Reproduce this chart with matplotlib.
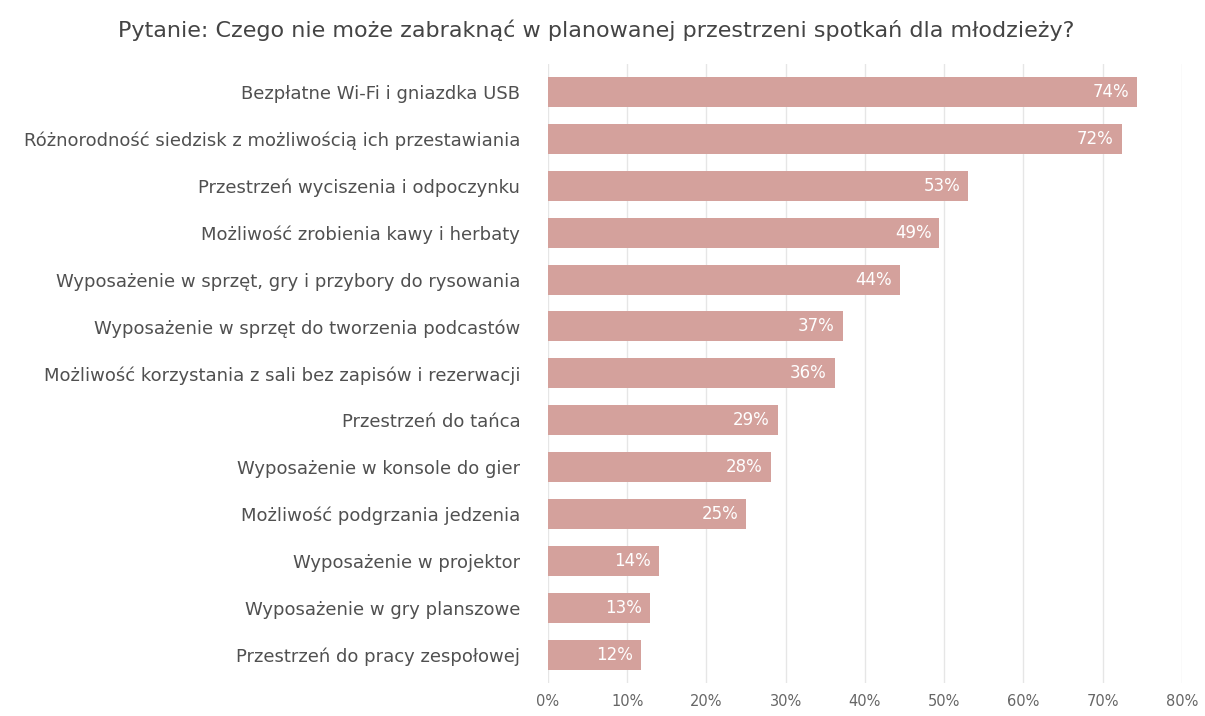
import numpy as np
import matplotlib
matplotlib.use("Agg")
import matplotlib.pyplot as plt
from matplotlib.ticker import PercentFormatter

plt.rcParams['font.family'] = ['DejaVu Sans']

title = "Pytanie: Czego nie może zabraknąć w planowanej przestrzeni spotkań dla młodzieży?"

categories = [
    "Bezpłatne Wi-Fi i gniazdka USB",
    "Różnorodność siedzisk z możliwością ich przestawiania",
    "Przestrzeń wyciszenia i odpoczynku",
    "Możliwość zrobienia kawy i herbaty",
    "Wyposażenie w sprzęt, gry i przybory do rysowania",
    "Wyposażenie w sprzęt do tworzenia podcastów",
    "Możliwość korzystania z sali bez zapisów i rezerwacji",
    "Przestrzeń do tańca",
    "Wyposażenie w konsole do gier",
    "Możliwość podgrzania jedzenia",
    "Wyposażenie w projektor",
    "Wyposażenie w gry planszowe",
    "Przestrzeń do pracy zespołowej",
]
values = [74.4, 72.4, 53.0, 49.4, 44.4, 37.2, 36.2, 29.0, 28.1, 25.0, 14.0, 12.9, 11.7]
xticks = [0, 10, 20, 30, 40, 50, 60, 70, 80]

bar_color = "#d4a19c"

fig = plt.figure(figsize=(12.05, 7.16), dpi=100)
ax = fig.add_axes([0.4548, 0.046, 0.526, 0.865])

y = np.arange(len(categories))
ax.barh(y, values, height=0.64, color=bar_color, zorder=2)

for yi, v in zip(y, values):
    ax.text(v - 1.0, yi, f"{round(v)}%", ha="right", va="center",
            color="white", fontsize=12, zorder=3)

ax.set_yticks(y)
ax.set_yticklabels(categories, fontsize=13, color="#505050")
ax.set_ylim(len(categories) - 0.4, -0.6)
ax.set_xlim(0, 80)
ax.set_xticks(xticks)
ax.xaxis.set_major_formatter(PercentFormatter(decimals=0))
ax.tick_params(axis="x", labelsize=10.5, colors="#666666", length=0, pad=8)
ax.tick_params(axis="y", length=0, pad=20)
ax.grid(axis="x", color="#e6e6e6", linewidth=1, zorder=0)
for s in ax.spines.values():
    s.set_visible(False)

fig.text(0.495, 0.958, title, ha="center", va="center", fontsize=16, color="#444444")

fig.savefig("out.png", dpi=100)
